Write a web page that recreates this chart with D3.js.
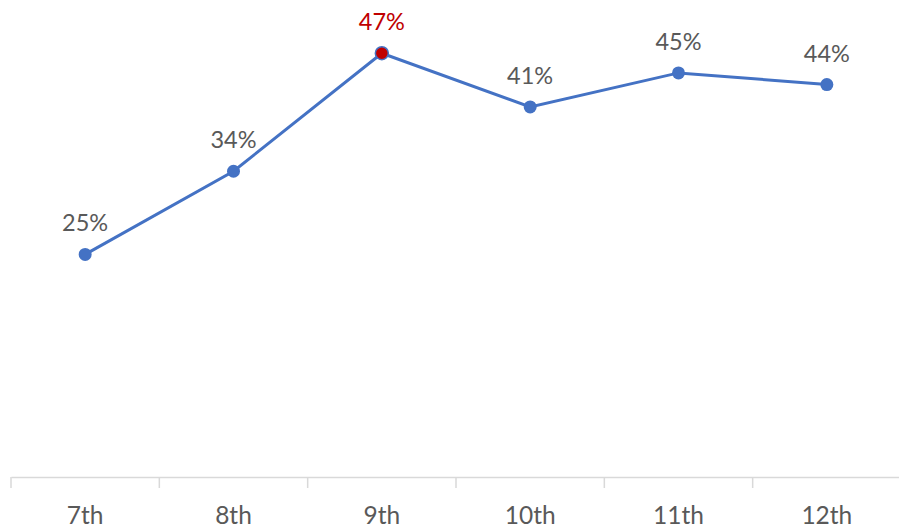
<!DOCTYPE html>
<html><head><meta charset="utf-8">
<script src="https://cdn.jsdelivr.net/npm/d3@7"></script>
<style>html,body{margin:0;padding:0;background:#fff;overflow:hidden}</style>
</head><body>
<svg id="c" width="899" height="528"></svg>
<script>
const categories = ["7th","8th","9th","10th","11th","12th"];
const values = [0.249, 0.342, 0.474, 0.414, 0.452, 0.439];
const highlight = [false, false, true, false, false, false];

const svg = d3.select("#c");
const font = "Lato, 'Open Sans', sans-serif";
const x = d3.scaleBand().domain(categories).range([11, 901]);
const y = d3.scaleLinear().domain([0, 0.5]).range([477, 30]);
const cx = d => x(d) + x.bandwidth()/2;

const axis = svg.append("g").attr("transform","translate(0,477)")
  .call(d3.axisBottom(x).tickSize(0).tickPadding(0).tickFormat(""));
axis.select(".domain").attr("stroke","#d9d9d9").attr("stroke-width",1.5);
const bounds = categories.map(c => x(c)).concat([x.range()[1]]);
axis.selectAll("line.b").data(bounds).enter().append("line")
  .attr("x1", d=>d).attr("x2", d=>d).attr("y1",0).attr("y2",11)
  .attr("stroke","#d9d9d9").attr("stroke-width",1.5);
axis.selectAll("text.t").data(categories).enter().append("text")
  .attr("x", d=>cx(d)).attr("y", 47).attr("text-anchor","middle")
  .attr("font-family", font).attr("font-size", 24.5).attr("fill","#595959").text(d=>d);

const data = categories.map((c,i)=>({c, v: values[i], h: highlight[i]}));
svg.append("path").datum(data)
  .attr("d", d3.line().x(d=>cx(d.c)).y(d=>y(d.v)))
  .attr("fill","none").attr("stroke","#4472C4").attr("stroke-width",3);
svg.selectAll("circle.p").data(data).enter().append("circle")
  .attr("cx", d=>cx(d.c)).attr("cy", d=>y(d.v)).attr("r", 6.5)
  .attr("fill", d=>d.h ? "#C00000" : "#4472C4")
  .attr("stroke", "#4472C4").attr("stroke-width", d=>d.h?1.5:0);
const fmt = d3.format(".0%");
svg.selectAll("text.l").data(data).enter().append("text")
  .attr("x", d=>cx(d.c)).attr("y", d=>y(d.v)-23).attr("text-anchor","middle")
  .attr("font-family", font).attr("font-size", 23.5)
  .attr("fill", d=>d.h ? "#C00000" : "#595959").text(d=>fmt(d.v));
</script>
</body></html>
